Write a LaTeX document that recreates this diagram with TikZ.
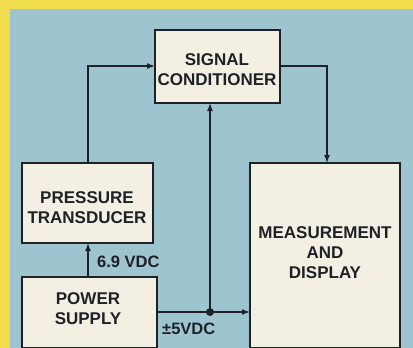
\documentclass[tikz,border=0pt]{standalone}
\usepackage{fontspec}
\setmainfont{Liberation Sans}
\usetikzlibrary{arrows.meta}
\definecolor{bgblue}{HTML}{9EC4D0}
\definecolor{yel}{HTML}{F0DC4C}
\definecolor{cream}{HTML}{F3EFE3}
\definecolor{ink}{HTML}{1E2226}
\begin{document}
\begin{tikzpicture}[x=1pt,y=-1pt,
  blk/.style={draw=ink,fill=cream,line width=2.6pt},
  lbl/.style={font=\bfseries\fontsize{17}{20}\selectfont,text=ink,align=center,inner sep=0pt},
  conn/.style={draw=ink,line width=1.5pt,-{Latex[length=8pt,width=6pt]}},
  small/.style={font=\bfseries\fontsize{16.5}{18}\selectfont,text=ink,inner sep=0pt}]
\useasboundingbox (0,0) rectangle (413,348);
\fill[yel] (0,0) rectangle (413,348);
\fill[bgblue] (10,9) rectangle (413,348);
% boxes
\path[blk] (155,30) rectangle (280,103);
\path[blk] (22,163) rectangle (153,243);
\path[blk] (22,277) rectangle (157,348);
\path[blk] (250,163) rectangle (400,348);
\node[coordinate] (scw) at (155,66) {};
\node[coordinate] (sce) at (280,66) {};
\node[coordinate] (scs) at (210,103) {};
\node[coordinate] (ptn) at (88,163) {};
\node[coordinate] (pts) at (88,243) {};
\node[coordinate] (psn) at (88,277) {};
\node[coordinate] (pse) at (157,312) {};
\node[coordinate] (mdn) at (327,163) {};
\node[coordinate] (mdw) at (250,312) {};
\node[coordinate] (jn) at (210,312) {};
\node[lbl] (sc) at (217,70) {SIGNAL\\CONDITIONER};
\node[lbl] (pt) at (87,208) {PRESSURE\\TRANSDUCER};
\node[lbl] (ps) at (88,309) {POWER\\SUPPLY};
\node[lbl] (md) at (325,253) {MEASUREMENT\\AND\\DISPLAY};
% connectors
\draw[conn] (ptn) |- (scw);
\draw[conn] (sce) -| (mdn);
\draw[conn] (psn) -- (pts);
\draw[conn] (pse) -- (mdw);
\draw[conn] (jn) -- (scs);
\fill[ink] (jn) circle (4pt);
\node[small,anchor=west] (v69) at (97,262) {6.9 VDC};
\node[small,anchor=west] (v5) at (162,329) {±5VDC};
\end{tikzpicture}
\end{document}
